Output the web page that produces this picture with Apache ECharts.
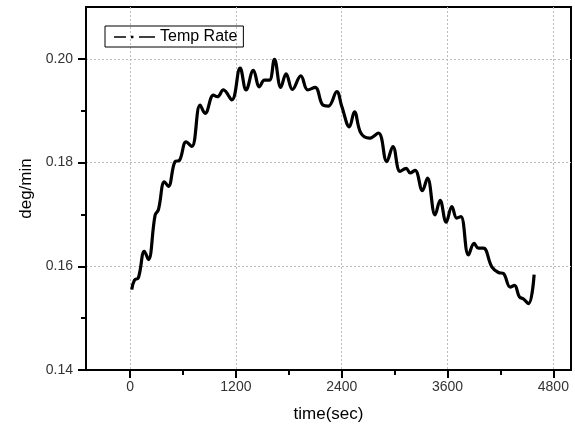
<!DOCTYPE html>
<html>
<head>
<meta charset="utf-8">
<script src="https://cdn.jsdelivr.net/npm/echarts@6/dist/echarts.min.js"></script>
<style>html,body{margin:0;padding:0;background:#fff}#main{width:575px;height:428px}</style>
</head>
<body>
<div id="main"></div>
<script>
// 数据
var timeSec = [19, 49, 94, 162, 208, 284, 321, 389, 434, 510, 559, 635, 700, 794, 851, 945, 990, 1058, 1153, 1248,
	1316, 1398, 1467, 1523, 1580, 1637, 1709, 1769, 1841, 1936, 2015, 2098, 2186, 2249, 2344, 2401, 2487, 2544, 2617, 2714,
	2816, 2911, 2980, 3062, 3130, 3176, 3232, 3315, 3372, 3459, 3516, 3584, 3649, 3705, 3751, 3837, 3902, 3950, 4007, 4102,
	4177, 4234, 4310, 4359, 4415, 4461, 4518, 4582];
var tempRate = [0.1555, 0.1573, 0.1578, 0.1629, 0.1613, 0.1699, 0.1709, 0.1763, 0.1754, 0.1802, 0.1804, 0.1840, 0.1831, 0.1911, 0.1895, 0.1930, 0.1927, 0.1940, 0.1921, 0.1982,
	0.1940, 0.1978, 0.1946, 0.1959, 0.1959, 0.1999, 0.1945, 0.1971, 0.1941, 0.1967, 0.1940, 0.1945, 0.1911, 0.1909, 0.1937, 0.1908, 0.1869, 0.1898, 0.1857, 0.1847,
	0.1857, 0.1802, 0.1831, 0.1783, 0.1789, 0.1780, 0.1785, 0.1746, 0.1770, 0.1699, 0.1727, 0.1685, 0.1715, 0.1693, 0.1696, 0.1622, 0.1644, 0.1635, 0.1635, 0.1599,
	0.1588, 0.1586, 0.1560, 0.1563, 0.1541, 0.1537, 0.1528, 0.1584];
var xMajorTicks = [0, 1200, 2400, 3600, 4800];
var xMinorTicks = [600, 1800, 3000, 4200];
var yMajorTicks = [0.14, 0.16, 0.18, 0.20];
var yMinorTicks = [0.15, 0.17, 0.19];

var fontName = 'Liberation Sans, Arial, sans-serif';
var points = timeSec.map(function (t, i) { return [t, tempRate[i]]; });

echarts.init(document.getElementById('main')).setOption({
	animation: false,
	grid: {
		left: 86, right: 4, top: 7, bottom: 57,
		show: true, borderColor: '#000', borderWidth: 2
	},
	legend: {
		left: 105, top: 26,
		data: ['Temp Rate'],
		icon: 'path://M0,0.8h12v1.4h-12z M17,0.3h2.4v2.4h-2.4z M25,0.8h16v1.4h-16z',
		itemWidth: 41, itemHeight: 3,
		borderColor: '#000', borderWidth: 1, borderRadius: 0,
		padding: [3, 6, 2, 9],
		textStyle: { fontFamily: fontName, fontSize: 16, color: '#000' }
	},
	xAxis: [{
		type: 'value', min: -500, max: 5000, position: 'bottom',
		name: 'time(sec)', nameLocation: 'middle', nameGap: 36,
		nameTextStyle: { fontFamily: fontName, fontSize: 17, color: '#000' },
		axisLine: { show: true, onZero: false, lineStyle: { color: '#000', width: 2 } },
		axisTick: { show: true, customValues: xMajorTicks, length: 8, lineStyle: { color: '#000', width: 2 } },
		axisLabel: {
			customValues: xMajorTicks, margin: 10, fontFamily: fontName, fontSize: 14, color: '#333',
			formatter: function (v) { return String(v); }
		},
		splitLine: { show: true, lineStyle: { color: '#bbb', type: [2, 2], width: 1 } }
	}, {
		type: 'value', min: -500, max: 5000, position: 'bottom', offset: 0,
		axisLine: { show: false, onZero: false },
		axisTick: { show: true, customValues: xMinorTicks, length: 5, lineStyle: { color: '#000', width: 2 } },
		axisLabel: { show: false },
		splitLine: { show: false }
	}],
	yAxis: [{
		type: 'value', min: 0.14, max: 0.21, position: 'left',
		name: 'deg/min', nameLocation: 'middle', nameGap: 50, nameRotate: 90,
		nameTextStyle: { fontFamily: fontName, fontSize: 17, color: '#000' },
		axisLine: { show: true, onZero: false, lineStyle: { color: '#000', width: 2 } },
		axisTick: { show: true, customValues: yMajorTicks, length: 8, lineStyle: { color: '#000', width: 2 } },
		axisLabel: {
			customValues: yMajorTicks, margin: 13, fontFamily: fontName, fontSize: 14, color: '#333',
			formatter: function (v) { return v.toFixed(2); }
		},
		splitLine: { show: true, lineStyle: { color: '#bbb', type: [2, 2], width: 1 } }
	}, {
		type: 'value', min: 0.14, max: 0.21, position: 'left', offset: 0,
		axisLine: { show: false, onZero: false },
		axisTick: { show: true, customValues: yMinorTicks, length: 5, lineStyle: { color: '#000', width: 2 } },
		axisLabel: { show: false },
		splitLine: { show: false }
	}],
	series: [{
		type: 'line',
		name: 'Temp Rate',
		xAxisIndex: 0, yAxisIndex: 0,
		data: points,
		smooth: 0.4,
		showSymbol: false,
		symbol: 'none',
		lineStyle: { color: '#000', width: 3.2 },
		itemStyle: { color: '#000' }
	}]
});
</script>
</body>
</html>
